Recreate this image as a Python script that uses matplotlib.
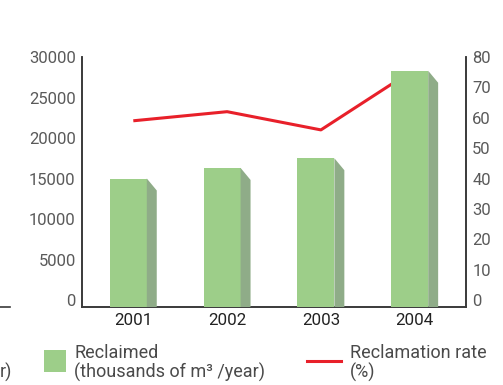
import numpy as np
import matplotlib
matplotlib.use("Agg")
import matplotlib.pyplot as plt
from matplotlib.patches import Polygon, Rectangle
from matplotlib.lines import Line2D

# datos
years = ["2001", "2002", "2003", "2004"]
reclaimed = [15000, 16300, 17500, 28300]      # miles de m3 / año
rate = [59, 62, 56, 76]                        # %
left_ticks = [0, 5000, 10000, 15000, 20000, 25000, 30000]
right_ticks = [0, 10, 20, 30, 40, 50, 60, 70, 80]

plt.rcParams['font.family'] = ['Roboto', 'DejaVu Sans']

fig = plt.figure(figsize=(5.03, 3.85), dpi=100)
W, H = 503, 385
ax = fig.add_axes([82 / W, (H - 307) / H, (466 - 82) / W, (307 - 57) / H])
ax2 = ax.twinx()

ymin, ymax = -864, 30000
ax.set_ylim(ymin, ymax)
ax2.set_ylim(ymin * 80 / 30000, 80)
ax.set_xlim(-0.547, 3.547)

x = np.arange(len(years))
front_w = 0.394
side_w = 0.106
drop = 1480  # caída del lado en unidades de datos

# linea de porcentaje (detrás de las barras, se corta en la última barra)
linea, = ax2.plot(x, rate, color="#e8202a", lw=2.2, zorder=1, solid_capstyle="butt")
clip = Rectangle((-1, -10), 3.75, 100, transform=ax2.transData)
linea.set_clip_path(clip)
ax2.set_zorder(1)
ax.set_zorder(2)
ax.patch.set_visible(False)

# barras con efecto 3D
vals = np.array(reclaimed)
ax.bar(x - 0.25, vals - ymin, bottom=ymin, width=front_w, align="edge",
       color="#9dce89", zorder=3)
for xi, v in zip(x, reclaimed):
    x0 = xi - 0.25 + front_w
    side = Polygon([(x0, ymin), (x0, v), (x0 + side_w, v - drop), (x0 + side_w, ymin)],
                   closed=True, facecolor="#8fac88", edgecolor="none", zorder=3)
    ax.add_patch(side)

# ejes
for a in (ax, ax2):
    a.spines["top"].set_visible(False)
    for s in ("left", "right", "bottom"):
        a.spines[s].set_color("#3a3a3a")
        a.spines[s].set_linewidth(1.2)
ax.set_yticks(left_ticks)
ax.set_yticklabels([str(t) for t in left_ticks])
ax2.set_yticks(right_ticks)
ax2.set_yticklabels([str(t) for t in right_ticks])
ax.set_xticks(x)
ax.set_xticklabels(years)
ax.tick_params(axis="y", length=0, pad=4.5, labelsize=12, labelcolor="#5a5a5a")
ax2.tick_params(axis="y", length=0, pad=4.5, labelsize=12, labelcolor="#5a5a5a")
ax.tick_params(axis="x", length=0, pad=4, labelsize=12.2, labelcolor="#222222")

# leyenda
txt = dict(fontsize=13, color="#4a4a4a", va="baseline")
fig.patches.append(Rectangle((44 / W, (H - 372) / H), 22 / W, 22 / H,
                             transform=fig.transFigure, facecolor="#9dce89",
                             edgecolor="none"))
fig.text(74 / W, (H - 358) / H, "Reclaimed", **txt)
fig.text(74 / W, (H - 378) / H, "(thousands of m³ /year)", **txt)
fig.lines.append(Line2D([307 / W, 341 / W], [(H - 361) / H] * 2,
                        transform=fig.transFigure, color="#e8202a", lw=2.2))
fig.text(350 / W, (H - 358) / H, "Reclamation rate", **txt)
fig.text(350 / W, (H - 378) / H, "(%)", **txt)

# restos del gráfico vecino
fig.text(0, (H - 378) / H, "r)", **txt)
fig.lines.append(Line2D([0, 10 / W], [(H - 307) / H] * 2,
                        transform=fig.transFigure, color="#3a3a3a", lw=1.2))

fig.savefig("out.png", dpi=100)
